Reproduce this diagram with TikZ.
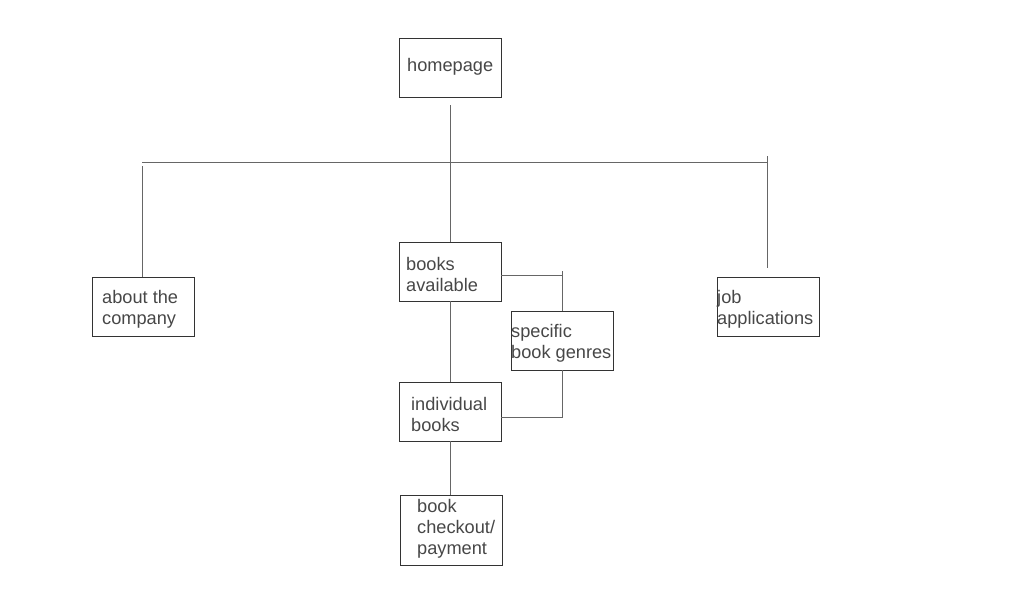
\documentclass[tikz,border=0pt]{standalone}
\usepackage{fontspec}
\setmainfont{Liberation Sans}
\begin{document}
\begin{tikzpicture}[x=1pt,y=-1pt,
  box/.style={draw=black!80,line width=0.8pt,minimum width=102pt,minimum height=59pt,inner sep=0pt},
  lbl/.style={anchor=west,align=left,inner sep=0pt,text=black!72,font=\fontsize{18.2}{21}\selectfont},
  conn/.style={draw=black!60,line width=0.8pt}]
\useasboundingbox (0,0) rectangle (1024,600);
% boxes
\node[box] (hp) at (450,67.5) {};
\node[box] (ba) at (450,271.5) {};
\node[box] (ac) at (143,306.5) {};
\node[box] (ja) at (768,306.5) {};
\node[box] (sg) at (562,340.5) {};
\node[box] (ib) at (450,411.5) {};
\node[box,minimum height=70pt] (bc) at (451,530) {};
% labels
\node[lbl] (hpT) at (407,67) {homepage};
\node[lbl] (baT) at (406,274) {books\\available};
\node[lbl] (acT) at (102,309) {about the\\company};
\node[lbl] (jaT) at (717,309) {job\\applications};
\node[lbl] (sgT) at (511,343) {specific\\book genres};
\node[lbl] (ibT) at (411,414) {individual\\books};
\node[lbl] (bcT) at (417,529) {book\\checkout/\\payment};
% junctions
\coordinate (hbL) at (142,162);
\coordinate (hbR) at (767,162);
\coordinate (bj) at (562,275);
\coordinate (ij) at (562,417);
% connectors
\draw[conn,shorten <=8pt] (hp.south) -- (ba.north);
\draw[conn] (hbL) -- (hbR);
\draw[conn,shorten <=4pt] (hbL) -- (hbL |- ac.north);
\draw[conn,shorten <=-6pt,shorten >=9pt] (hbR) -- (hbR |- ja.north);
\draw[conn] (ba.east |- bj) -- (bj);
\draw[conn,shorten <=-4pt] (bj) -- (sg.north);
\draw[conn,shorten >=-1pt] (sg.south) -- (ij);
\draw[conn] (ib.east |- ij) -- (ij);
\draw[conn] (ba.south) -- (ib.north);
\draw[conn] (ib.south) -- (ib.south |- bc.north);
\end{tikzpicture}
\end{document}
